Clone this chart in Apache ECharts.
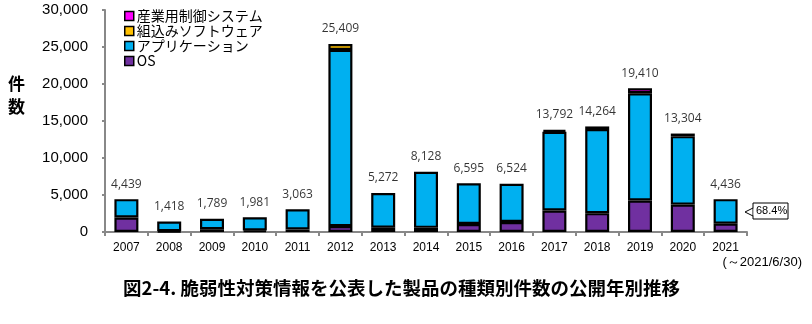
<!DOCTYPE html>
<html><head><meta charset="utf-8">
<script src="https://cdn.jsdelivr.net/npm/echarts@6/dist/echarts.min.js"></script>
<style>html,body{margin:0;padding:0;background:#fff}#c{width:812px;height:324px}</style>
</head><body><div id="c"></div>
<script>
const years = ['2007','2008','2009','2010','2011','2012','2013','2014','2015','2016','2017','2018','2019','2020','2021'];
const totals = [4439,1418,1789,1981,3063,25409,5272,8128,6595,6524,13792,14264,19410,13304,4436];
const osVals = [1950,120,370,200,330,800,580,560,1080,1350,2900,2550,4250,3700,1130];
const appVals = [2489,1298,1419,1781,2733,23809,4692,7568,5515,5174,10642,11364,14510,9254,3306];
const embVals = [0,0,0,0,0,800,0,0,0,0,0,0,0,0,0];
const indVals = [0,0,0,0,0,0,0,0,0,0,250,350,650,350,0];
const yTicks = [0,5000,10000,15000,20000,25000,30000];

const chart = echarts.init(document.getElementById('c'));
const nz = arr => arr.map(v => v === 0 ? null : v);
function bar(name, data, color){
  return {type:'bar', stack:'t', name, barWidth:24, data:nz(data),
    itemStyle:{color, borderColor:'#000', borderWidth:2.2}};
}
chart.setOption({
  animation:false,
  grid:{left:105, right:65, top:10, bottom:92},
  legend:{
    orient:'vertical', left:119, top:4, itemGap:1, itemWidth:9, itemHeight:9,
    textStyle:{fontFamily:'Noto Sans CJK JP', fontSize:14, lineHeight:14, color:'#000', padding:[0,0,0,-2]},
    data:['産業用制御システム','組込みソフトウェア','アプリケーション','OS'].map(n=>({name:n, icon:'rect', itemStyle:{borderColor:'#000', borderWidth:1.5}}))
  },
  xAxis:{
    type:'category', data:years,
    axisLine:{lineStyle:{color:'#888', width:2}},
    axisTick:{show:true, length:4, lineStyle:{color:'#888', width:2}},
    axisLabel:{color:'#000', fontFamily:'Liberation Sans', fontSize:12, margin:10}
  },
  yAxis:{
    type:'value', min:0, max:30000, interval:5000,
    splitLine:{show:false},
    axisLine:{show:true, lineStyle:{color:'#888', width:2}},
    axisTick:{show:true, length:3, lineStyle:{color:'#888', width:2}},
    axisLabel:{color:'#000', fontFamily:'Liberation Sans', fontSize:15, margin:17,
      formatter:v=>yTicks.includes(v)?v.toLocaleString('en-US'):''}
  },
  series:[
    bar('OS', osVals, '#7030A0'),
    bar('アプリケーション', appVals, '#00B0F0'),
    bar('組込みソフトウェア', embVals, '#FFC000'),
    bar('産業用制御システム', indVals, '#FF00FF'),
    {type:'scatter', name:'合計', data:totals, symbolSize:2,
      itemStyle:{color:'rgba(0,0,0,0)'}, silent:true, z:10,
      label:{show:true, position:'top', distance:8, color:'#000', fontFamily:'Open Sans', fontSize:12,
        formatter:p=>p.value.toLocaleString('en-US')}}
  ],
  graphic:[
    {type:'text', left:8, top:72, style:{text:'件\n数', font:'bold 17px "Noto Sans CJK JP"', fill:'#000', lineHeight:23}},
    {type:'polyline', shape:{points:[[753,208],[745,212],[753,216]]}, style:{stroke:'#000', lineWidth:1, fill:'#fff'}},
    {type:'rect', shape:{x:753, y:203, width:35, height:16}, style:{stroke:'#000', lineWidth:1, fill:'#fff'}},
    {type:'rect', shape:{x:753.5, y:208.5, width:2, height:7}, style:{fill:'#fff'}},
    {type:'text', x:756, y:205, style:{text:'68.4%', font:'11px "Liberation Sans"', fill:'#000'}},
    {type:'text', right:10, top:256, style:{text:'(～2021/6/30)', font:'13px "Liberation Sans"', fill:'#000'}},
    {type:'text', left:123, top:279, style:{text:'図2-4. 脆弱性対策情報を公表した製品の種類別件数の公開年別推移', font:'bold 18.5px "Noto Sans CJK JP"', fill:'#000'}}
  ]
});
</script></body></html>
